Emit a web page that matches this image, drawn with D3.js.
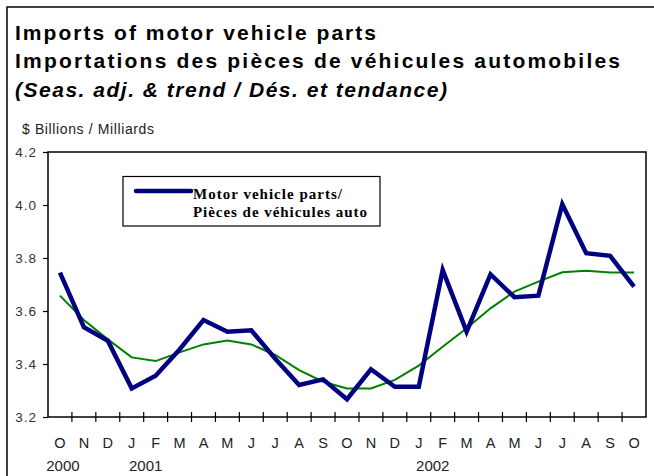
<!DOCTYPE html>
<html>
<head>
<meta charset="utf-8">
<script src="https://cdn.jsdelivr.net/npm/d3@7"></script>
<style>
  body { margin: 0; background: #fff; }
  text { font-family: "Liberation Sans", Arial, sans-serif; }
</style>
</head>
<body>
<div id="chart"></div>
<script>
// monthly data, Oct 2000 to Oct 2002
var months = ["O", "N", "D", "J", "F", "M", "A", "M", "J", "J", "A", "S",
  "O", "N", "D", "J", "F", "M", "A", "M", "J", "J", "A", "S", "O"];
var parts = [3.745, 3.539, 3.488, 3.308, 3.356, 3.455, 3.566, 3.522, 3.527, 3.420, 3.321, 3.342,
  3.267, 3.380, 3.314, 3.314, 3.755, 3.522, 3.738, 3.652, 3.658, 4.003, 3.818, 3.808, 3.692];
var trend = [3.658, 3.566, 3.493, 3.425, 3.411, 3.444, 3.474, 3.489, 3.474, 3.434, 3.377, 3.333,
  3.308, 3.308, 3.340, 3.394, 3.465, 3.535, 3.610, 3.673, 3.711, 3.746, 3.752, 3.745, 3.745];
var yTicks = [3.2, 3.4, 3.6, 3.8, 4.0, 4.2];
var years = ["2000", "2001", "2002"];
var yearAt = [0, 3, 15];

var W = 654, H = 476;
var margin = { top: 152, right: 8, bottom: 59, left: 48 };

var svg = d3.select("#chart").append("svg")
  .attr("width", W)
  .attr("height", H);

// outer frame (runs off the right and bottom edges)
svg.append("rect")
  .attr("x", 7).attr("y", 7)
  .attr("width", W + 10).attr("height", H + 10)
  .attr("fill", "none")
  .attr("stroke", "#000")
  .attr("stroke-width", 1.5);

// titles
svg.append("text").attr("x", 15).attr("y", 40)
  .attr("font-size", 21).attr("font-weight", "bold")
  .attr("textLength", 361).attr("lengthAdjust", "spacing")
  .text("Imports of motor vehicle parts");
svg.append("text").attr("x", 15).attr("y", 68)
  .attr("font-size", 21).attr("font-weight", "bold")
  .attr("textLength", 605).attr("lengthAdjust", "spacing")
  .text("Importations des pièces de véhicules automobiles");
svg.append("text").attr("x", 15).attr("y", 97)
  .attr("font-size", 21).attr("font-weight", "bold").attr("font-style", "italic")
  .attr("textLength", 432).attr("lengthAdjust", "spacing")
  .text("(Seas. adj. & trend / Dés. et tendance)");
svg.append("text").attr("x", 22).attr("y", 134)
  .attr("font-size", 14).attr("fill", "#222")
  .attr("textLength", 132).attr("lengthAdjust", "spacing")
  .text("$ Billions / Milliards");

var x = d3.scaleBand()
  .domain(d3.range(months.length))
  .range([margin.left, W - margin.right])
  .padding(0);

var y = d3.scaleLinear()
  .domain([3.2, 4.2])
  .range([H - margin.bottom, margin.top]);

var x0 = x.range()[0], x1 = x.range()[1];
var bw = x.bandwidth();

// plot box
svg.append("rect")
  .attr("x", x0).attr("y", y(4.2))
  .attr("width", x1 - x0).attr("height", y(3.2) - y(4.2))
  .attr("fill", "none")
  .attr("stroke", "#000")
  .attr("stroke-width", 1.5);

// y axis
var yAxis = svg.append("g")
  .attr("transform", "translate(" + x0 + ",0)")
  .call(d3.axisLeft(y).tickValues(yTicks).tickFormat(d3.format(".1f")).tickSize(5).tickPadding(6));
yAxis.select(".domain").remove();
yAxis.selectAll("line").attr("stroke", "#000").attr("stroke-width", 1.2);
yAxis.selectAll("text")
  .attr("font-size", 13.5)
  .attr("fill", "#333")
  .style("font-family", "Liberation Sans, Arial, sans-serif")
  .style("letter-spacing", "1px");

// x axis: ticks at month boundaries crossing the axis
var bounds = d3.range(months.length + 1).map(function (i) { return x0 + i * bw; });
svg.append("g").selectAll("line")
  .data(bounds.slice(1, -1))
  .enter().append("line")
  .attr("x1", function (d) { return d; })
  .attr("x2", function (d) { return d; })
  .attr("y1", y(3.2) - 5)
  .attr("y2", y(3.2) + 5)
  .attr("stroke", "#000")
  .attr("stroke-width", 1.2);

svg.append("g").selectAll("text")
  .data(months)
  .enter().append("text")
  .attr("x", function (d, i) { return x(i) + bw / 2; })
  .attr("y", 448)
  .attr("text-anchor", "middle")
  .attr("font-size", 14.5)
  .attr("fill", "#222")
  .text(function (d) { return d; });

svg.append("g").selectAll("text")
  .data(years)
  .enter().append("text")
  .attr("x", function (d, i) { return x(yearAt[i]) + bw / 2 + (i === 0 ? 3 : 14); })
  .attr("y", 471)
  .attr("text-anchor", "middle")
  .attr("font-size", 15)
  .attr("fill", "#222")
  .text(function (d) { return d; });

// lines
var line = d3.line()
  .x(function (d, i) { return x(i) + bw / 2; })
  .y(function (d) { return y(d); });

svg.append("path")
  .datum(trend)
  .attr("d", line)
  .attr("fill", "none")
  .attr("stroke", "#008000")
  .attr("stroke-width", 2);

svg.append("path")
  .datum(parts)
  .attr("d", line)
  .attr("fill", "none")
  .attr("stroke", "#000080")
  .attr("stroke-width", 4.5)
  .attr("stroke-linejoin", "miter");

// legend
var lg = svg.append("g");
lg.append("rect")
  .attr("x", 123).attr("y", 176.5)
  .attr("width", 257).attr("height", 49.5)
  .attr("fill", "#fff")
  .attr("stroke", "#000")
  .attr("stroke-width", 1.2);
lg.append("line")
  .attr("x1", 136).attr("x2", 191)
  .attr("y1", 191).attr("y2", 191)
  .attr("stroke", "#000080")
  .attr("stroke-width", 4.5)
  .attr("stroke-linecap", "round");
lg.append("text").attr("x", 193).attr("y", 198.5)
  .attr("font-size", 15).attr("font-weight", "bold")
  .style("font-family", "Liberation Serif, Times New Roman, serif")
  .attr("textLength", 149).attr("lengthAdjust", "spacing")
  .text("Motor vehicle parts/");
lg.append("text").attr("x", 193).attr("y", 217)
  .attr("font-size", 15).attr("font-weight", "bold")
  .style("font-family", "Liberation Serif, Times New Roman, serif")
  .attr("textLength", 174).attr("lengthAdjust", "spacing")
  .text("Pièces de véhicules auto");
</script>
</body>
</html>
